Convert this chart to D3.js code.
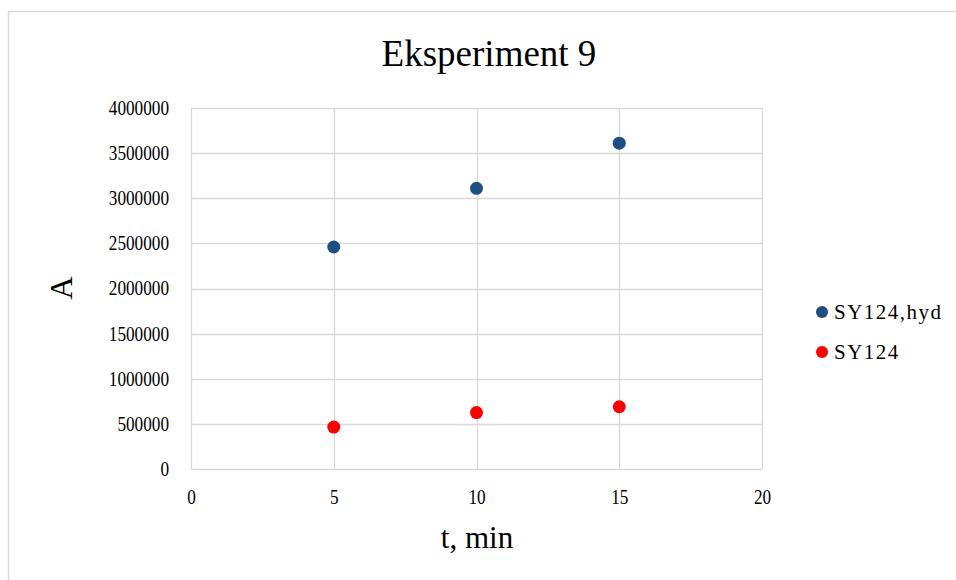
<!DOCTYPE html>
<html>
<head>
<meta charset="utf-8">
<script src="https://cdn.jsdelivr.net/npm/d3@7"></script>
<style>
  html, body { margin: 0; padding: 0; background: #fff; }
  svg { display: block; }
  text { font-family: "Liberation Serif", "Times New Roman", Times, "DejaVu Serif", serif; fill: #000; }
</style>
</head>
<body>
<svg id="chart" width="956" height="580"></svg>
<script>
// Measured times (min)
const times = [5, 10, 15];
// Peak areas per series
const hydValues = [2460000, 3110000, 3610000];
const baseValues = [465000, 625000, 690000];
const seriesNames = ["SY124,hyd", "SY124"];
const seriesColors = ["#1f4e84", "#ff0000"];
// Axis ticks
const xTicks = [0, 5, 10, 15, 20];
const yTicks = [0, 500000, 1000000, 1500000, 2000000, 2500000, 3000000, 3500000, 4000000];

const title = "Eksperiment 9";
const xTitle = "t, min";
const yTitle = "A";

const svg = d3.select("#chart");
const W = 956, H = 580;
const plot = { left: 191, right: 762, top: 108, bottom: 469 };
const narrow = 0.86; // horizontal squeeze of tick labels

svg.append("rect").attr("width", W).attr("height", H).attr("fill", "#fff");
// Chart frame
svg.append("rect")
  .attr("x", 8.5).attr("y", 11.5)
  .attr("width", W + 10).attr("height", H + 10)
  .attr("fill", "none").attr("stroke", "#d9d9d9").attr("stroke-width", 1.5);

const x = d3.scaleLinear().domain([0, 20]).range([plot.left, plot.right]);
const y = d3.scaleLinear().domain([0, 4000000]).range([plot.bottom, plot.top]);

// Gridlines
const grid = svg.append("g").attr("stroke", "#d9d9d9").attr("stroke-width", 1.3);
grid.selectAll("line.h").data(yTicks).join("line")
  .attr("x1", plot.left).attr("x2", plot.right)
  .attr("y1", d => Math.round(y(d)) + 0.5).attr("y2", d => Math.round(y(d)) + 0.5);
grid.selectAll("line.v").data(xTicks).join("line")
  .attr("y1", plot.top).attr("y2", plot.bottom)
  .attr("x1", d => Math.round(x(d)) + 0.5).attr("x2", d => Math.round(x(d)) + 0.5);

// Axes (labels only; lines come from the grid)
const yAxis = svg.append("g")
  .attr("transform", `translate(${plot.left},0)`)
  .call(d3.axisLeft(y).tickValues(yTicks).tickFormat(d3.format("d")).tickSize(0).tickPadding(22));
const xAxis = svg.append("g")
  .attr("transform", `translate(0,${plot.bottom})`)
  .call(d3.axisBottom(x).tickValues(xTicks).tickFormat(d3.format("d")).tickSize(0).tickPadding(21));
[yAxis, xAxis].forEach(a => {
  a.select(".domain").remove();
  a.attr("font-family", null);
  a.selectAll("text").attr("font-size", 20).attr("fill", "#000");
});
yAxis.selectAll("text").attr("x", 0).attr("transform", `translate(-22,0) scale(${narrow},1)`);
xAxis.selectAll("text").attr("transform", `scale(${narrow},1)`);

// Title and axis titles
svg.append("text").attr("x", 489).attr("y", 66).attr("text-anchor", "middle")
  .attr("font-size", 37).text(title);
svg.append("text").attr("x", 477).attr("y", 548).attr("text-anchor", "middle")
  .attr("font-size", 31).text(xTitle);
svg.append("text").attr("transform", "translate(72,288) rotate(-90)").attr("text-anchor", "middle")
  .attr("font-size", 32).text(yTitle);

// Data points
const series = [hydValues, baseValues];
series.forEach((vals, i) => {
  svg.append("g").selectAll("circle").data(times.map((t, j) => [t, vals[j]])).join("circle")
    .attr("cx", d => x(d[0])).attr("cy", d => y(d[1])).attr("r", 6.5)
    .attr("fill", seriesColors[i]);
});

// Legend
const legend = svg.append("g").attr("transform", "translate(822,312)");
seriesNames.forEach((name, i) => {
  const g = legend.append("g").attr("transform", `translate(0,${i * 40})`);
  g.append("circle").attr("r", 6).attr("fill", seriesColors[i]);
  g.append("text").attr("x", 12).attr("y", 7).attr("font-size", 21)
    .attr("letter-spacing", 1.5).text(name);
});
</script>
</body>
</html>
